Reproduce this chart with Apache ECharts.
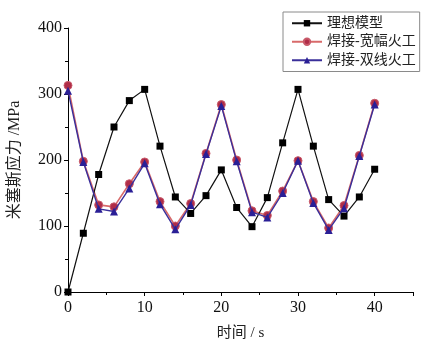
<!DOCTYPE html>
<html>
<head>
<meta charset="utf-8">
<script src="https://cdn.jsdelivr.net/npm/echarts@6/dist/echarts.min.js"></script>
<style>
  html, body { margin: 0; padding: 0; background: #fff; }
  #chart { width: 425px; height: 348px; }
</style>
</head>
<body>
<div id="chart"></div>
<script>
// Time points (s)
const times = [0, 2, 4, 6, 8, 10, 12, 14, 16, 18, 20, 22, 24, 26, 28, 30, 32, 34, 36, 38, 40];

// Von Mises stress (MPa) for each case
const idealModel = [0, 89, 178, 250, 290, 307, 221, 144, 119, 146, 185, 128, 99, 143, 226, 307, 221, 140, 115, 144, 186];
const wideFlame  = [313, 198, 132, 129, 164, 197, 137, 100, 134, 210, 284, 200, 123, 116, 153, 199, 137, 97, 131, 207, 286];
const doubleLine = [305, 197, 126, 122, 157, 195, 133, 95, 132, 209, 282, 198, 121, 113, 150, 199, 135, 94, 127, 206, 284];

const seriesNames = ['理想模型', '焊接-宽幅火工', '焊接-双线火工'];

const FONT = '"Liberation Serif", "Noto Sans CJK SC", serif';

function pairs(vals) {
  return times.map((t, i) => [t, vals[i]]);
}

const chart = echarts.init(document.getElementById('chart'), null, { renderer: 'canvas' });

chart.setOption({
  backgroundColor: '#ffffff',
  animation: false,
  textStyle: { fontFamily: FONT },
  grid: { left: 68, right: 12, top: 28, bottom: 56, containLabel: false, outerBoundsMode: 'none' },
  legend: {
    orient: 'vertical',
    left: 283,
    top: 12,
    padding: [3, 4, 3, 8],
    borderColor: '#8a8a8a',
    borderWidth: 1,
    itemWidth: 30,
    itemHeight: 8,
    itemGap: 2,
    textStyle: { fontFamily: FONT, fontSize: 14, lineHeight: 16.5, color: '#222' },
    data: seriesNames
  },
  xAxis: {
    type: 'value',
    min: 0,
    max: 45,
    interval: 10,
    name: '时间 / s',
    nameLocation: 'middle',
    nameGap: 34,
    nameTextStyle: { fontFamily: FONT, fontSize: 15, color: '#222' },
    axisLine: { show: true, lineStyle: { color: '#000', width: 1 } },
    axisTick: { show: true, length: 4, lineStyle: { color: '#000' } },
    minorTick: { show: true, splitNumber: 2, length: 3, lineStyle: { color: '#000' } },
    axisLabel: {
      fontFamily: FONT, fontSize: 16, color: '#111', margin: 8,
      formatter: v => (v % 10 === 0 && v <= 40 ? String(v) : '')
    },
    splitLine: { show: false }
  },
  yAxis: {
    type: 'value',
    min: 0,
    max: 400,
    interval: 100,
    name: '米塞斯应力 /MPa',
    nameLocation: 'middle',
    nameGap: 45,
    nameRotate: 90,
    nameTextStyle: { fontFamily: FONT, fontSize: 16, color: '#222' },
    axisLine: { show: true, lineStyle: { color: '#000', width: 1 } },
    axisTick: { show: true, length: 4, lineStyle: { color: '#000' } },
    minorTick: { show: true, splitNumber: 2, length: 3, lineStyle: { color: '#000' } },
    axisLabel: { fontFamily: FONT, fontSize: 16, color: '#111', margin: 6 },
    splitLine: { show: false }
  },
  series: [
    {
      name: seriesNames[0],
      type: 'line',
      data: pairs(idealModel),
      symbol: 'rect',
      symbolSize: 7,
      showAllSymbol: true,
      lineStyle: { color: '#111', width: 1.2 },
      itemStyle: { color: '#000' },
      z: 3
    },
    {
      name: seriesNames[1],
      type: 'line',
      data: pairs(wideFlame),
      symbol: 'circle',
      symbolSize: 8,
      showAllSymbol: true,
      lineStyle: { color: '#d86a6a', width: 1.6 },
      itemStyle: { color: '#b02d48', borderColor: '#c85a6a', borderWidth: 1 },
      z: 2
    },
    {
      name: seriesNames[2],
      type: 'line',
      data: pairs(doubleLine),
      symbol: 'triangle',
      symbolSize: 8,
      showAllSymbol: true,
      lineStyle: { color: '#3a2f9a', width: 1.4 },
      itemStyle: { color: '#2a1f96' },
      z: 4
    }
  ]
});
</script>
</body>
</html>
